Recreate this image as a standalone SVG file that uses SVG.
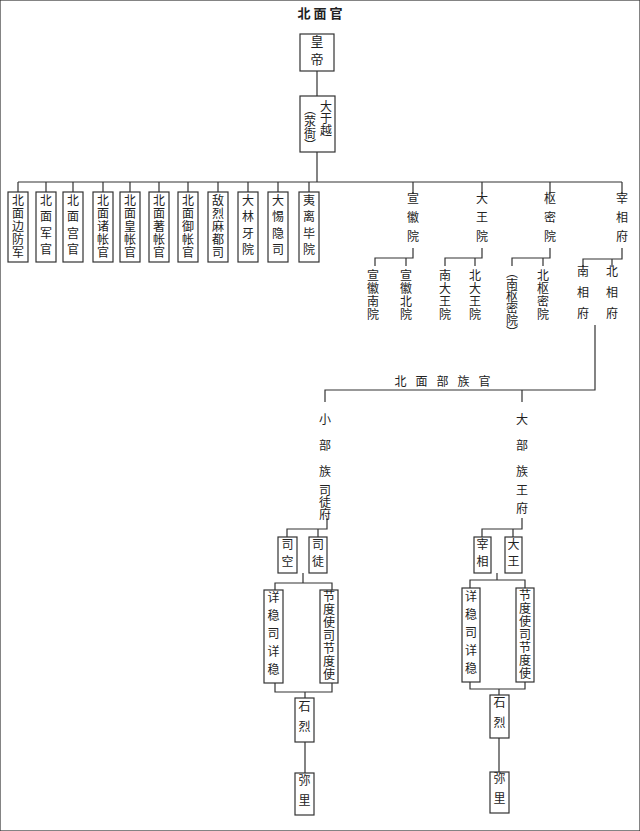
<svg xmlns="http://www.w3.org/2000/svg" width="640" height="831" viewBox="0 0 640 831">
<style>
.v{writing-mode:vertical-rl;text-anchor:middle;font-family:"Noto Sans CJK SC",sans-serif;font-size:12px;fill:#222}
.h{font-family:"Noto Sans CJK SC",sans-serif;font-size:12px;fill:#222;text-anchor:middle}
rect{fill:#fff;stroke:#333;stroke-width:1.2}
#connectors path{fill:none;stroke:#333;stroke-width:1.2}
</style>
<rect width="640" height="831" fill="#fff" stroke="none"/>
<text class="h" x="320" y="18" style="font-weight:bold;font-size:13px">北 面 官</text>
<g id="connectors">
<path d="M317 71V96M317 152V182M18 182H622"/>
<path d="M18 182V192M46 182V192M73 182V192M103 182V192M130 182V192M159 182V192M188 182V192M218 182V192M248 182V192M278 182V192M309 182V192"/>
<path d="M413 182V194M482 182V194M550 182V194M622 182V194"/>
<path d="M413 248V258H375V266M406 258V266"/>
<path d="M482 248V258H445V266M475 258V266"/>
<path d="M550 248V258H512V266M543 258V266"/>
<path d="M622 248V259H583V267M612 259V267"/>
<path d="M595 325V390H325V402M522 390V402"/>
<path d="M327 518V529H287V537M318 529V537"/>
<path d="M303 573V583M275 590V583H332V590M275 683V692H332V683M305 692V698M305 742V773"/>
<path d="M522 518V529H482V537M513 529V537"/>
<path d="M497 573V580M470 588V580H525V588M470 682V689H525V682M499 689V695M499 738V772"/>
</g>
<g id="n-huangdi"><rect x="300" y="34" width="34" height="37"/><text class="v" x="317" y="53" style="font-size:13px;letter-spacing:5px">皇帝</text></g>
<g id="n-dayuyue"><rect x="300" y="96" width="35" height="56"/><text class="v" x="326" y="118" style="letter-spacing:0">大于越</text><text class="v" x="310" y="127" style="letter-spacing:0">︵荥衙︶</text></g>
<g id="n-t1"><rect x="8" y="192" width="20" height="70"/><text class="v" x="18" y="227" style="letter-spacing:1px">北面边防军</text></g>
<g id="n-t2"><rect x="36" y="192" width="20" height="70"/><text class="v" x="46" y="227" style="letter-spacing:4.5px">北面军官</text></g>
<g id="n-t3"><rect x="63" y="192" width="20" height="70"/><text class="v" x="73" y="227" style="letter-spacing:4.5px">北面宫官</text></g>
<g id="n-t4"><rect x="93" y="192" width="20" height="70"/><text class="v" x="103" y="227" style="letter-spacing:1px">北面诸帐官</text></g>
<g id="n-t5"><rect x="120" y="192" width="20" height="70"/><text class="v" x="130" y="227" style="letter-spacing:1px">北面皇帐官</text></g>
<g id="n-t6"><rect x="149" y="192" width="20" height="70"/><text class="v" x="159" y="227" style="letter-spacing:1px">北面著帐官</text></g>
<g id="n-t7"><rect x="178" y="192" width="20" height="70"/><text class="v" x="188" y="227" style="letter-spacing:1px">北面御帐官</text></g>
<g id="n-t8"><rect x="208" y="192" width="20" height="70"/><text class="v" x="218" y="227" style="letter-spacing:1px">敌烈麻都司</text></g>
<g id="n-t9"><rect x="238" y="192" width="20" height="70"/><text class="v" x="248" y="227" style="letter-spacing:4.5px">大林牙院</text></g>
<g id="n-t10"><rect x="268" y="192" width="20" height="70"/><text class="v" x="278" y="227" style="letter-spacing:4.5px">大惕隐司</text></g>
<g id="n-t11"><rect x="299" y="192" width="20" height="70"/><text class="v" x="309" y="227" style="letter-spacing:4.5px">夷离毕院</text></g>
<g id="n-xuanhui"><text class="v" x="413" y="221" style="letter-spacing:7px">宣徽院</text></g>
<g id="n-xhn"><text class="v" x="373" y="295" style="letter-spacing:1px">宣徽南院</text></g>
<g id="n-xhb"><text class="v" x="406" y="295" style="letter-spacing:1px">宣徽北院</text></g>
<g id="n-dawang"><text class="v" x="482" y="221" style="letter-spacing:7px">大王院</text></g>
<g id="n-ndw"><text class="v" x="445" y="295" style="letter-spacing:1px">南大王院</text></g>
<g id="n-bdw"><text class="v" x="475" y="295" style="letter-spacing:1px">北大王院</text></g>
<g id="n-shumi"><text class="v" x="550" y="221" style="letter-spacing:7px">枢密院</text></g>
<g id="n-nsm"><text class="v" x="512" y="302" style="letter-spacing:0">︵南枢密院︶</text></g>
<g id="n-bsm"><text class="v" x="543" y="295" style="letter-spacing:1px">北枢密院</text></g>
<g id="n-zaixiang"><text class="v" x="622" y="221" style="letter-spacing:7px">宰相府</text></g>
<g id="n-nxf"><text class="v" x="583" y="297" style="letter-spacing:9px">南相府</text></g>
<g id="n-bxf"><text class="v" x="612" y="297" style="letter-spacing:9px">北相府</text></g>
<text class="h" x="447" y="386" style="letter-spacing:9px">北面部族官</text>
<g id="n-xiaobu"><text class="v" x="325" y="452" style="letter-spacing:14px">小部族</text><text class="v" x="325" y="502" style="letter-spacing:0">司徒府</text></g>
<g id="n-dabu"><text class="v" x="522" y="452" style="letter-spacing:14px">大部族</text><text class="v" x="522" y="502" style="letter-spacing:6px">王府</text></g>
<g id="n-sikong"><rect x="278" y="537" width="19" height="36"/><text class="v" x="287.5" y="555" style="letter-spacing:5px">司空</text></g>
<g id="n-situ"><rect x="309" y="537" width="18" height="36"/><text class="v" x="318" y="555" style="letter-spacing:5px">司徒</text></g>
<g id="n-xw1"><rect x="264" y="590" width="19" height="93"/><text class="v" x="273.5" y="636" style="letter-spacing:6px">详稳司详稳</text></g>
<g id="n-jd1"><rect x="320" y="590" width="18" height="93"/><text class="v" x="329" y="636" style="letter-spacing:1px">节度使司节度使</text></g>
<g id="n-sl1"><rect x="295" y="698" width="19" height="44"/><text class="v" x="304.5" y="720" style="letter-spacing:8px">石烈</text></g>
<g id="n-ml1"><rect x="295" y="773" width="19" height="42"/><text class="v" x="304.5" y="794" style="letter-spacing:8px">弥里</text></g>
<g id="n-zx2"><rect x="474" y="537" width="17" height="36"/><text class="v" x="482.5" y="555" style="letter-spacing:5px">宰相</text></g>
<g id="n-dw2"><rect x="505" y="537" width="17" height="36"/><text class="v" x="513.5" y="555" style="letter-spacing:5px">大王</text></g>
<g id="n-xw2"><rect x="462" y="588" width="18" height="94"/><text class="v" x="471" y="635" style="letter-spacing:6px">详稳司详稳</text></g>
<g id="n-jd2"><rect x="516" y="588" width="18" height="94"/><text class="v" x="525" y="635" style="letter-spacing:1px">节度使司节度使</text></g>
<g id="n-sl2"><rect x="490" y="695" width="19" height="43"/><text class="v" x="499.5" y="716" style="letter-spacing:8px">石烈</text></g>
<g id="n-ml2"><rect x="490" y="772" width="19" height="41"/><text class="v" x="499.5" y="792" style="letter-spacing:8px">弥里</text></g>
</svg>
